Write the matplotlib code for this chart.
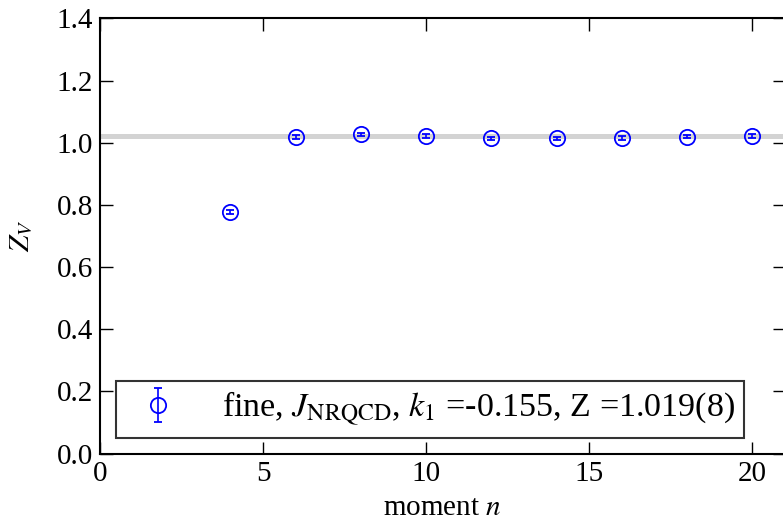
import numpy as np
import matplotlib
matplotlib.use('Agg')
import matplotlib.pyplot as plt

plt.rcParams['font.family'] = ['Liberation Serif', 'DejaVu Serif']
plt.rcParams['mathtext.fontset'] = 'stix'

# data
moments = [4, 6, 8, 10, 12, 14, 16, 18, 20]
zv = [0.778, 1.018, 1.027, 1.022, 1.014, 1.014, 1.016, 1.020, 1.023]
zv_err = [0.006, 0.006, 0.006, 0.006, 0.006, 0.006, 0.006, 0.006, 0.006]
z_fit = 1.019
z_fit_err = 0.008

fig = plt.figure(figsize=(7.83, 5.22), dpi=100)
ax = fig.add_axes([0.1277, 0.131, 0.875, 0.8336])

ax.axhspan(z_fit - z_fit_err, z_fit + z_fit_err, color='#d3d3d3', lw=0, zorder=1)
ax.errorbar(moments, zv, yerr=zv_err, fmt='o', mfc='none', mec='blue', ecolor='blue',
            mew=1.3, ms=11, elinewidth=1.2, capsize=3, capthick=1.2, zorder=3,
            label=r'fine, $J_{\rm NRQCD}$, $k_1$ =-0.155, Z =1.019(8)')

ax.set_xlim(0, 21)
ax.set_ylim(0, 1.4)
ax.set_xticks([0, 5, 10, 15, 20])
ax.set_yticks(np.arange(0, 1.41, 0.2))
ax.yaxis.set_major_formatter(matplotlib.ticker.FormatStrFormatter('%.1f'))
ax.tick_params(direction='in', length=9, width=1, labelsize=21, pad=5,
               top=True, right=True)
for s in ax.spines.values():
    s.set_linewidth(1.5)

ax.set_xlabel(r'moment $n$', fontsize=21, labelpad=6)
ax.set_ylabel(r'$Z_V$', fontsize=21, labelpad=16)

leg = ax.legend(loc='lower left', fontsize=24.5, fancybox=False, numpoints=1,
                borderaxespad=0.47, handlelength=1.9, handletextpad=0.93,
                borderpad=0.28)
leg.get_frame().set_edgecolor('black')
leg.get_frame().set_linewidth(1.5)

fig.savefig('out.png', dpi=100)
